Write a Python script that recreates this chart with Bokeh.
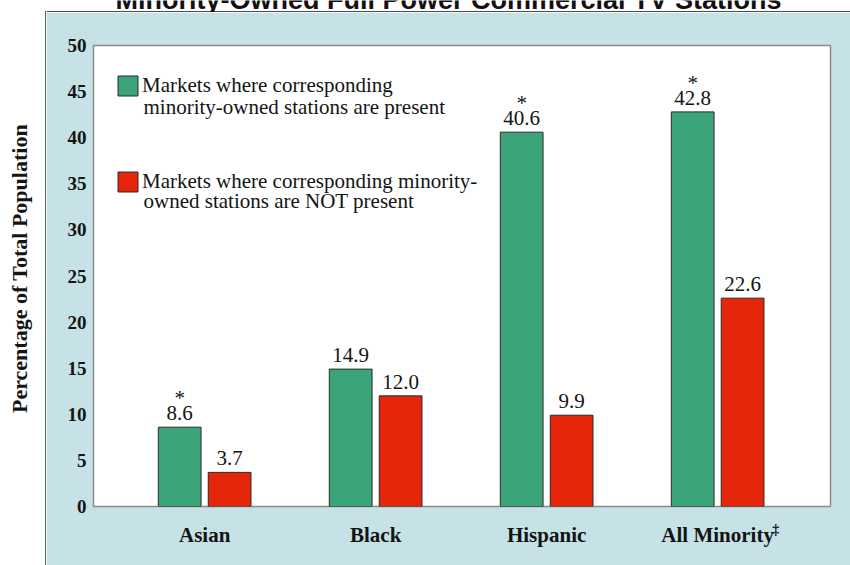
import math
from bokeh.plotting import figure
from bokeh.layouts import row, column
from bokeh.models import (ColumnDataSource, Range1d, FixedTicker, Label, LabelSet,
                          Legend, LegendItem, LinearAxis)
from bokeh.transform import dodge
from bokeh.embed import file_html
from bokeh.resources import INLINE

# ---------------- data ----------------
categories = ["Asian", "Black", "Hispanic", "All Minority"]
present = [8.6, 14.9, 40.6, 42.8]          # minority-owned stations present
not_present = [3.7, 12.0, 9.9, 22.6]       # minority-owned stations NOT present
present_marks = ["*", "", "*", "*"]
y_ticks = [0, 5, 10, 15, 20, 25, 30, 35, 40, 45, 50]

title_text = "Minority-Owned Full Power Commercial TV Stations"
y_label = "Percentage of Total Population"
legend_present = ["Markets where corresponding", "minority-owned stations are present"]
legend_absent = ["Markets where corresponding minority-", "owned stations are NOT present"]
footnote_mark = "\u2021"

# ---------------- style ----------------
GREEN = "#3ba478"
RED = "#e5260a"
PANEL = "#c6e2e6"
EDGE = "#4d4d4d"
SERIF = "Liberation Serif"
TXT = "#141414"
W, H = 850, 565
PX, PY = 46, 12          # where the light-blue panel starts

src = ColumnDataSource(dict(
    pos=list(range(len(categories))),
    present=present,
    not_present=not_present,
    present_lbl=[f"{v:.1f}" for v in present],
    not_present_lbl=[f"{v:.1f}" for v in not_present],
    marks=present_marks,
))

# ---------------- main chart (on the light-blue panel) ----------------
p = figure(width=W - PX, height=H - PY, x_range=Range1d(-0.65, 3.66), y_range=Range1d(0, 50),
           output_backend="svg", toolbar_location=None, title=None, frame_align=False,
           min_border_left=47, min_border_right=20, min_border_top=33, min_border_bottom=59,
           border_fill_color=PANEL, background_fill_color="white",
           outline_line_color="#8c8c8c", outline_line_width=1.5)
p.xgrid.visible = False
p.ygrid.visible = False

OFF = 0.146
gr = p.vbar(x=dodge("pos", -OFF), top="present", width=0.25, source=src,
            fill_color=GREEN, line_color="#2a2a2a", line_width=1)
rr = p.vbar(x=dodge("pos", OFF), top="not_present", width=0.25, source=src,
            fill_color=RED, line_color="#2a2a2a", line_width=1)

lbl_kw = dict(source=src, text_align="center", text_baseline="alphabetic",
              text_font=SERIF, text_font_size="21px", text_color=TXT)
p.add_layout(LabelSet(x=dodge("pos", -OFF), y="present", text="present_lbl", y_offset=7, **lbl_kw))
p.add_layout(LabelSet(x=dodge("pos", OFF), y="not_present", text="not_present_lbl", y_offset=7, **lbl_kw))
p.add_layout(LabelSet(x=dodge("pos", -OFF), y="present", text="marks", y_offset=22, **lbl_kw))

# legend: swatch + first line; second line of each entry continues below it
legend = Legend(items=[LegendItem(label=legend_present[0], renderers=[gr]),
                       LegendItem(label=legend_absent[0], renderers=[rr])],
                location="top_left", margin=22, padding=0, spacing=60,
                glyph_width=25, glyph_height=25, label_standoff=2, label_height=36,
                label_text_font=SERIF, label_text_font_size="21px", label_text_color=TXT,
                border_line_color=None, background_fill_alpha=0)
p.add_layout(legend)
for txt, mid in ((legend_present[1], 400), (legend_absent[1], 306)):
    p.add_layout(Label(x=50, y=mid, x_units="screen", y_units="screen", text=txt,
                       text_align="left", text_baseline="middle",
                       text_font=SERIF, text_font_size="21px", text_color=TXT))

# axes
p.yaxis.ticker = FixedTicker(ticks=y_ticks)
p.yaxis.axis_line_color = None
p.yaxis.major_tick_line_color = None
p.yaxis.minor_tick_line_color = None
p.yaxis.major_tick_out = 0
p.yaxis.major_label_standoff = 7
p.yaxis.major_label_text_font = SERIF
p.yaxis.major_label_text_font_style = "bold"
p.yaxis.major_label_text_font_size = "19px"
p.yaxis.major_label_text_color = TXT

p.xaxis.ticker = FixedTicker(ticks=list(range(len(categories))))
p.xaxis.major_label_overrides = {i: c for i, c in enumerate(categories)}
p.xaxis.axis_line_color = None
p.xaxis.major_tick_line_color = None
p.xaxis.minor_tick_line_color = None
p.xaxis.major_tick_out = 0
p.xaxis.major_label_standoff = 16
p.xaxis.major_label_text_font = SERIF
p.xaxis.major_label_text_font_style = "bold"
p.xaxis.major_label_text_font_size = "21px"
p.xaxis.major_label_text_color = TXT

# small raised footnote mark after "All Minority"
mark_pos = len(categories) - 1 + 0.34
fx = LinearAxis(ticker=FixedTicker(ticks=[mark_pos]), major_label_overrides={mark_pos: footnote_mark},
                axis_line_color=None, major_tick_line_color=None, minor_tick_line_color=None,
                major_tick_out=0, major_label_standoff=-28,
                major_label_text_font=SERIF, major_label_text_font_style="bold",
                major_label_text_font_size="14px", major_label_text_color=TXT)
p.add_layout(fx, "below")

# ---------------- white strip at the top (cut-off title, panel edge) ----------------
top = figure(width=W - PX, height=PY, x_range=Range1d(PX, W), y_range=Range1d(PY, 0),
             output_backend="svg", toolbar_location=None, title=None, frame_align=False,
             x_axis_location=None, y_axis_location=None,
             min_border_left=0, min_border_right=0, min_border_top=0, min_border_bottom=0,
             border_fill_color="white", background_fill_color="white", outline_line_color=None)
top.xgrid.visible = False
top.ygrid.visible = False
top.segment(x0=[PX], y0=[PY - 0.6], x1=[W], y1=[PY - 0.6], line_color=EDGE, line_width=1.6)
top.add_layout(Label(x=448 - PX, y=13, x_units="screen", y_units="screen", text=title_text,
                     text_align="center", text_baseline="middle",
                     text_font="Liberation Sans", text_font_style="bold", text_font_size="27px",
                     text_color="#111111"))

# ---------------- white strip at the left (y-axis title, panel edge) ----------------
left = figure(width=PX, height=H, x_range=Range1d(0, PX), y_range=Range1d(H, 0),
              output_backend="svg", toolbar_location=None, title=None, frame_align=False,
              x_axis_location=None, y_axis_location=None,
              min_border_left=0, min_border_right=0, min_border_top=0, min_border_bottom=0,
              border_fill_color="white", background_fill_color="white", outline_line_color=None)
left.xgrid.visible = False
left.ygrid.visible = False
left.segment(x0=[PX - 0.6], y0=[PY - 1.4], x1=[PX - 0.6], y1=[H], line_color=EDGE, line_width=1.6)
left.add_layout(Label(x=18.5, y=H - 268, x_units="screen", y_units="screen", text=y_label,
                      angle=math.pi / 2, text_align="center", text_baseline="middle",
                      text_font=SERIF, text_font_style="bold", text_font_size="22px",
                      text_color=TXT))

layout = row(left, column(top, p, spacing=0), spacing=0)
open("out.html", "w").write(file_html(layout, INLINE))
